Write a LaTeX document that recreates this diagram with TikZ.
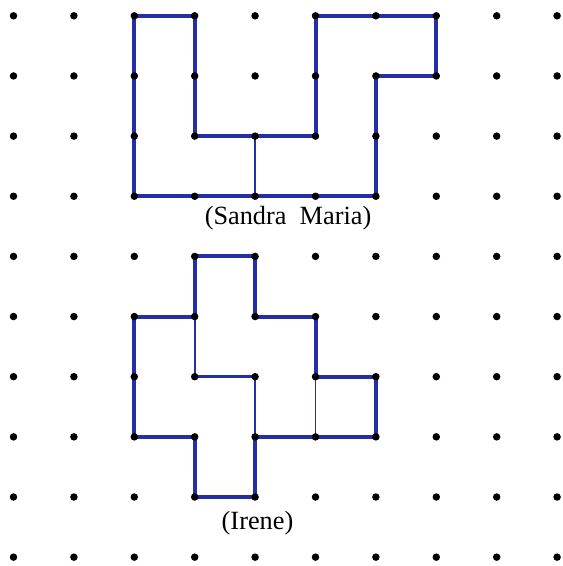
\documentclass[tikz,border=0pt]{standalone}
\usepackage{fontspec}
\setmainfont{Liberation Serif}
\definecolor{penblue}{RGB}{36,46,165}
\tikzset{
  outline/.style={draw=penblue, line width=4pt, line join=miter, line cap=rect},
  innerline/.style={draw=penblue, line width=1.9pt},
  midline/.style={draw=penblue, line width=3.2pt},
  griddot/.style={circle, fill=black, inner sep=0pt, minimum size=7.5pt},
  caption/.style={font=\fontsize{26.3}{29}\selectfont, inner sep=0pt}
}
\begin{document}
\begin{tikzpicture}
\useasboundingbox[fill=white] (0,0) rectangle (563pt,-566pt);
\begin{scope}[shift={(13.5pt,-15.8pt)}, x=60.4pt, y=-60.15pt]
  \foreach \i in {0,...,9}{
    \foreach \j in {0,...,9}{
      \coordinate (p\i-\j) at (\i,\j);
    }
  }
  % Sandra Maria
  \draw[outline] (p2-0) -- (p3-0) -- (p3-2) -- (p5-2) -- (p5-0) -- (p7-0) -- (p7-1)
     -- (p6-1) -- (p6-3) -- (p2-3) -- cycle;
  \draw[innerline] (p4-2) -- (p4-3);
  % Irene
  \draw[outline] (p3-4) -- (p4-4) -- (p4-5) -- (p5-5) -- (p5-6) -- (p6-6) -- (p6-7)
     -- (p4-7) -- (p4-8) -- (p3-8) -- (p3-7) -- (p2-7) -- (p2-5) -- (p3-5) -- cycle;
  \draw[innerline] (p3-5) -- (p3-6);
  \draw[midline] (p3-6) -- (p4-6);
  \draw[innerline] (p4-6) -- (p4-7);
  \draw[innerline] (p5-6) -- (p5-7);
  % dots
  \foreach \i in {0,...,9}{
    \foreach \j in {0,...,9}{
      \node[griddot] (d\i-\j) at (p\i-\j) {};
    }
  }
\end{scope}
\node[caption] (sandra) at (288pt,-218.5pt) {(Sandra\ \ Maria)};
\node[caption] (irene) at (257.5pt,-523.5pt) {(Irene)};
\end{tikzpicture}
\end{document}
